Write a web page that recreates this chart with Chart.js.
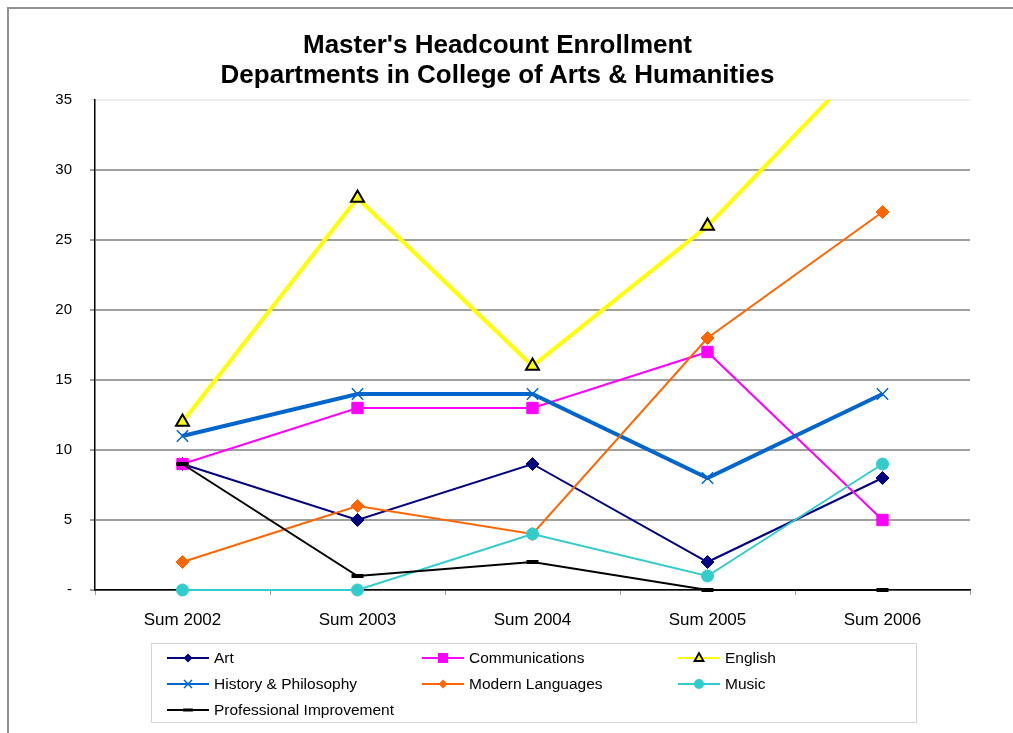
<!DOCTYPE html>
<html>
<head>
<meta charset="utf-8">
<script src="https://cdn.jsdelivr.net/npm/chart.js@4/dist/chart.umd.min.js"></script>
<style>
  body { margin: 0; background: #fff; font-family: "Liberation Sans", Arial, sans-serif; }
  #wrap { position: relative; width: 1013px; height: 733px; overflow: hidden; }
  #frame { position: absolute; left: 7px; top: 7px; width: 1100px; height: 800px; border-top: 2px solid #909090; border-left: 2px solid #909090; }
  #title { position: absolute; left: 0; top: 29px; width: 995px; text-align: center; font-weight: bold; font-size: 26px; line-height: 30px; color: #000; }
  #myChart { position: absolute; left: 0; top: 0; }
  #legend { position: absolute; left: 151px; top: 643px; width: 766px; height: 80px; border: 1px solid #d4d4d4; box-sizing: border-box; }
  .item { position: absolute; font-size: 15.5px; line-height: 18px; color: #000; white-space: nowrap; }
  .item svg { position: absolute; left: 0; top: -1px; }
  .item span { position: absolute; left: 47px; top: 0; }
</style>
</head>
<body>
<div id="wrap">
  <div id="frame"></div>
  <canvas id="myChart" width="1013" height="733"></canvas>
  <div id="title">Master's Headcount Enrollment<br>Departments in College of Arts &amp; Humanities</div>
  <div id="legend"></div>
</div>
<script>
const labels = ["Sum 2002", "Sum 2003", "Sum 2004", "Sum 2005", "Sum 2006"];
const art = [9, 5, 9, 2, 8];
const communications = [9, 13, 13, 17, 5];
const english = [12, 28, 16, 26, 39];
const historyPhil = [11, 14, 14, 8, 14];
const modernLang = [2, 6, 4, 18, 27];
const music = [0, 0, 4, 1, 9];
const profImprove = [9, 1, 2, 0, 0];
const yTicks = [0, 5, 10, 15, 20, 25, 30, 35];

const series = [
  { label: "Art", data: art, color: "#000080", width: 2, style: "rectRot", r: 6.5, fill: "#000080", bw: 1 },
  { label: "Communications", data: communications, color: "#FF00FF", width: 2, style: "rect", r: 8, fill: "#FF00FF", bw: 1 },
  { label: "English", data: english, color: "#FFFF00", width: 4, style: "triangle", r: 7.5, fill: "#FFFF00", bw: 2, pointBorder: "#000", clip: 0 },
  { label: "History & Philosophy", data: historyPhil, color: "#0066CC", width: 4, style: "crossRot", r: 8, fill: "#0066CC", bw: 1.5 },
  { label: "Modern Languages", data: modernLang, color: "#FF6600", width: 2, style: "rectRot", r: 6.5, fill: "#FF6600", bw: 1 },
  { label: "Music", data: music, color: "#33CCCC", width: 2, style: "circle", r: 6, fill: "#33CCCC", bw: 1 },
  { label: "Professional Improvement", data: profImprove, color: "#000000", width: 2, style: "line", r: 6, fill: "#000000", bw: 4 }
];

const datasets = series.map((s, i) => ({
  label: s.label,
  data: s.data,
  borderColor: s.color,
  backgroundColor: s.fill,
  borderWidth: s.width,
  pointStyle: s.style,
  pointRadius: s.r,
  pointBackgroundColor: s.fill,
  pointBorderColor: s.pointBorder || s.color,
  pointBorderWidth: s.bw,
  tension: 0,
  clip: s.clip === undefined ? false : s.clip,
  order: 7 - i
}));

new Chart(document.getElementById("myChart"), {
  type: "line",
  data: { labels: labels, datasets: datasets },
  options: {
    responsive: false,
    animation: false,
    layout: { padding: { top: 100, right: 43, left: 0, bottom: 0 } },
    plugins: { legend: { display: false }, title: { display: false }, tooltip: { enabled: false } },
    scales: {
      x: {
        offset: true,
        grid: { offset: true, drawOnChartArea: false, color: "#a0a0a0", tickLength: 5 },
        border: { color: "#000", width: 1.5 },
        ticks: { color: "#000", font: { family: "Liberation Sans", size: 17 }, padding: 15, maxRotation: 0 },
        afterFit: (scale) => { scale.height = 143; }
      },
      y: {
        min: 0,
        max: 35,
        afterBuildTicks: (scale) => { scale.ticks = yTicks.map(v => ({ value: v })); },
        grid: {
          color: (ctx) => ctx.tick && ctx.tick.value === 35 ? "#eeeeee" : "#a0a0a0",
          lineWidth: 2,
          tickLength: 5
        },
        border: { color: "#000", width: 1.5 },
        ticks: {
          color: "#000",
          font: { family: "Liberation Sans", size: 15 },
          padding: 18,
          callback: (v) => v === 0 ? "-" : v
        },
        afterFit: (scale) => { scale.width = 95; }
      }
    }
  }
});

// legend: 3 columns like the reference
const colX = [15, 270, 526];
const rowY = [5, 31, 57];
const legend = document.getElementById("legend");
function marker(s) {
  const c = s.color;
  const m0 = 21;
  let m = "";
  if (s.style === "rectRot") m = `<polygon points="${m0},5.5 ${m0 + 4.5},10 ${m0},14.5 ${m0 - 4.5},10" fill="${c}"/>`;
  else if (s.style === "rect") m = `<rect x="${m0 - 5}" y="5" width="10" height="10" fill="${c}"/>`;
  else if (s.style === "triangle") m = `<polygon points="${m0},5 ${m0 + 4.5},13 ${m0 - 4.5},13" fill="#FFFF00" stroke="#000" stroke-width="1.8"/>`;
  else if (s.style === "crossRot") m = `<path d="M${m0 - 4},6 L${m0 + 4},14 M${m0 + 4},6 L${m0 - 4},14" stroke="${c}" stroke-width="1.5"/>`;
  else if (s.style === "circle") m = `<circle cx="${m0}" cy="10" r="5" fill="${c}"/>`;
  else if (s.style === "line") m = `<rect x="${m0 - 5}" y="8.5" width="10" height="3" fill="${c}"/>`;
  return `<svg width="44" height="20"><line x1="0" y1="10" x2="42" y2="10" stroke="${c}" stroke-width="2"/>${m}</svg>`;
}
series.forEach((s, i) => {
  const d = document.createElement("div");
  d.className = "item";
  d.style.left = colX[i % 3] + "px";
  d.style.top = rowY[Math.floor(i / 3)] + "px";
  d.innerHTML = marker(s) + "<span></span>";
  d.querySelector("span").textContent = s.label;
  legend.appendChild(d);
});
</script>
</body>
</html>
